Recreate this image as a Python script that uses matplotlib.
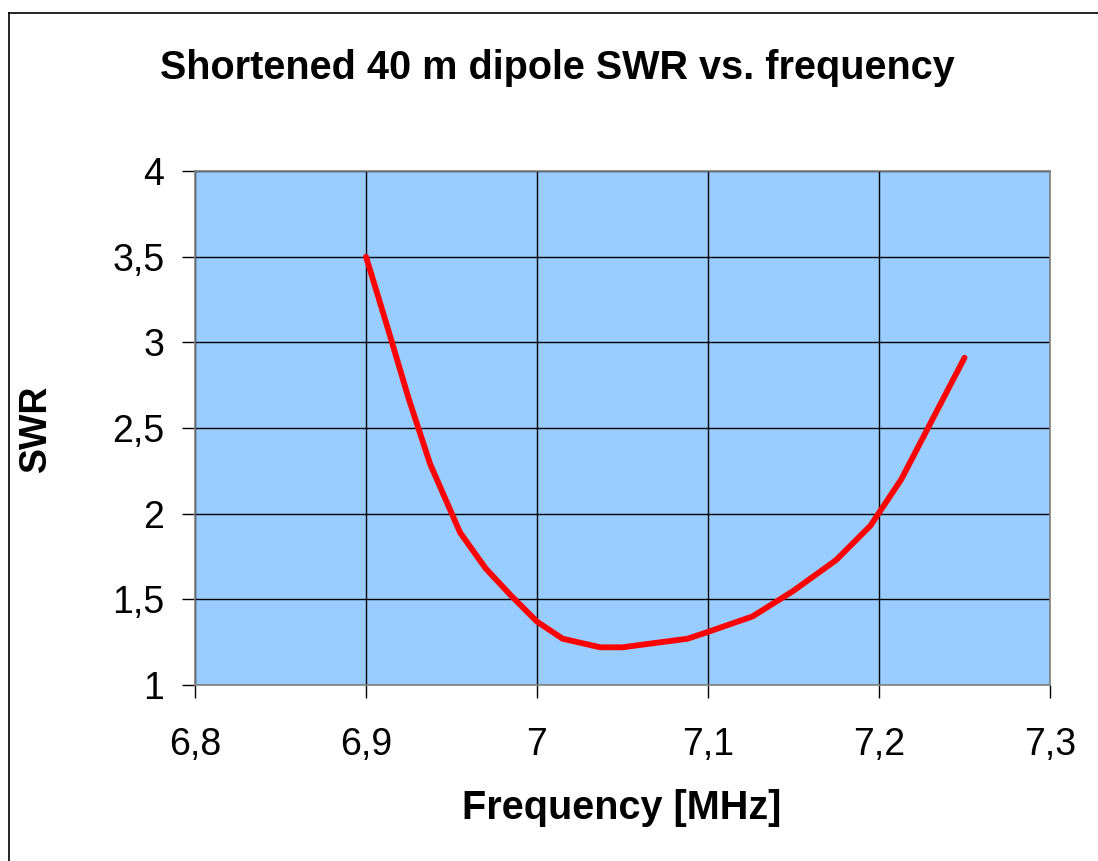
import matplotlib
matplotlib.use("Agg")
import matplotlib.pyplot as plt
from matplotlib.lines import Line2D
from matplotlib.ticker import FuncFormatter

freq = [6.9, 6.9125, 6.925, 6.9375, 6.955, 6.97, 6.985, 7.0, 7.015, 7.037,
        7.05, 7.065, 7.088, 7.1, 7.126, 7.15, 7.175, 7.195, 7.213, 7.25]
swr = [3.5, 3.09, 2.67, 2.29, 1.89, 1.68, 1.52, 1.37, 1.27, 1.22,
       1.22, 1.24, 1.27, 1.31, 1.40, 1.55, 1.73, 1.93, 2.2, 2.91]
xticks = [6.8, 6.9, 7.0, 7.1, 7.2, 7.3]
yticks = [1, 1.5, 2, 2.5, 3, 3.5, 4]

plt.rcParams['font.family'] = ['Liberation Sans', 'DejaVu Sans']

fig = plt.figure(figsize=(10.98, 8.61), dpi=100)
# outer chart frame (only left and top edges visible in the crop)
x0, y0 = 8.5 / 1098, 1 - 12.5 / 861
fig.lines.append(Line2D([x0, x0], [0, y0], transform=fig.transFigure,
                        color='black', linewidth=1.2))
fig.lines.append(Line2D([x0, 1], [y0, y0], transform=fig.transFigure,
                        color='black', linewidth=1.2))

ax = fig.add_axes([195/1098, 1 - 685/861, 855/1098, 514/861])
ax.set_facecolor('#99CCFF')
ax.plot(freq, swr, color='#FF0000', linewidth=4.2, solid_capstyle='round',
        solid_joinstyle='round', zorder=3)
ax.set_xlim(6.8, 7.3)
ax.set_ylim(1, 4)
ax.set_xticks(xticks)
ax.set_yticks(yticks)
fmt = FuncFormatter(lambda v, p: ('%g' % v).replace('.', ','))
ax.xaxis.set_major_formatter(fmt)
ax.yaxis.set_major_formatter(fmt)
ax.grid(True, color='black', linewidth=1.0)
ax.set_axisbelow(True)
for s in ax.spines.values():
    s.set_color('#808080')
    s.set_linewidth(1.2)
ax.tick_params(axis='both', direction='out', length=9.5, width=1,
               labelsize=27, color='black')
ax.tick_params(axis='y', pad=12.5)
ax.tick_params(axis='x', pad=21)

fig.text(557/1098, 1 - 68/861, 'Shortened 40 m dipole SWR vs. frequency',
         ha='center', va='center', fontsize=28.5, fontweight='bold')
fig.text(622/1098, 1 - 808/861, 'Frequency [MHz]', ha='center', va='center',
         fontsize=28.5, fontweight='bold')
fig.text(36/1098, 1 - 428/861, 'SWR', ha='center', va='center',
         fontsize=27, fontweight='bold', rotation=90)

fig.savefig('out.png', dpi=100)
